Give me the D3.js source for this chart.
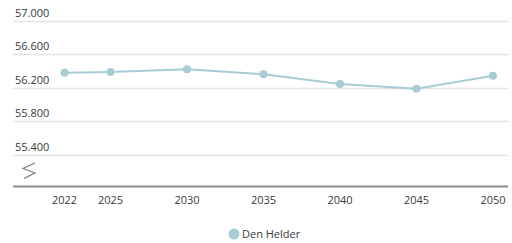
<!DOCTYPE html>
<html>
<head>
<meta charset="utf-8">
<script src="https://cdn.jsdelivr.net/npm/d3@7"></script>
<style>
  body { margin: 0; background: #fff; }
  text { font-family: "Open Sans", sans-serif; }
</style>
</head>
<body>
<svg id="chart" width="512" height="243"></svg>
<script>
// data
var years = [2022, 2025, 2030, 2035, 2040, 2045, 2050];
var denHelder = [56377, 56385, 56417, 56358, 56242, 56186, 56341];
var yTicks = [55400, 55800, 56200, 56600, 57000];
var seriesName = "Den Helder";

var svg = d3.select("#chart");
var color = "#a9cbd3";

// dutch thousands separator
var nl = d3.formatLocale({decimal: ",", thousands: ".", grouping: [3], currency: ["€", ""]});

var x = d3.scaleLinear().domain([2022, 2050]).range([64.6, 493]);
var y = d3.scaleLinear().domain([55000, 57000]).range([188, 20.5]);

// gridlines + labels
var grid = svg.append("g");
grid.selectAll("line").data(yTicks).enter().append("line")
    .attr("x1", 13).attr("x2", 508)
    .attr("y1", function(d) { return Math.round(y(d)) + 0.5; })
    .attr("y2", function(d) { return Math.round(y(d)) + 0.5; })
    .attr("stroke", "#e3e3e3").attr("stroke-width", 1.5);
grid.selectAll("text").data(yTicks).enter().append("text")
    .attr("x", 15).attr("y", function(d) { return y(d) - 4; })
    .attr("font-size", 11).attr("fill", "#3a3a3a")
    .text(function(d) { return nl.format(",")(d); });

// break symbol
svg.append("path")
    .attr("d", "M35,163 L23,168.5 L35,173 L24,178.5")
    .attr("fill", "none").attr("stroke", "#777").attr("stroke-width", 1.1);

// x axis
svg.append("line")
    .attr("x1", 13).attr("x2", 508).attr("y1", 186.5).attr("y2", 186.5)
    .attr("stroke", "#8c8c8c").attr("stroke-width", 2);
svg.append("g").selectAll("text").data(years).enter().append("text")
    .attr("x", function(d) { return x(d); }).attr("y", 204)
    .attr("text-anchor", "middle").attr("font-size", 11).attr("fill", "#3a3a3a")
    .text(function(d) { return d; });

// line
var line = d3.line()
    .x(function(d, i) { return x(years[i]); })
    .y(function(d) { return y(d); });
svg.append("path").datum(denHelder)
    .attr("d", line).attr("fill", "none")
    .attr("stroke", color).attr("stroke-width", 2);
svg.append("g").selectAll("circle").data(denHelder).enter().append("circle")
    .attr("cx", function(d, i) { return x(years[i]); })
    .attr("cy", function(d) { return y(d); })
    .attr("r", 4).attr("fill", color);

// legend
svg.append("circle").attr("cx", 234).attr("cy", 234).attr("r", 5.5).attr("fill", color);
svg.append("text").attr("x", 242).attr("y", 238)
    .attr("font-size", 11).attr("fill", "#3a3a3a").text(seriesName);
</script>
</body>
</html>
